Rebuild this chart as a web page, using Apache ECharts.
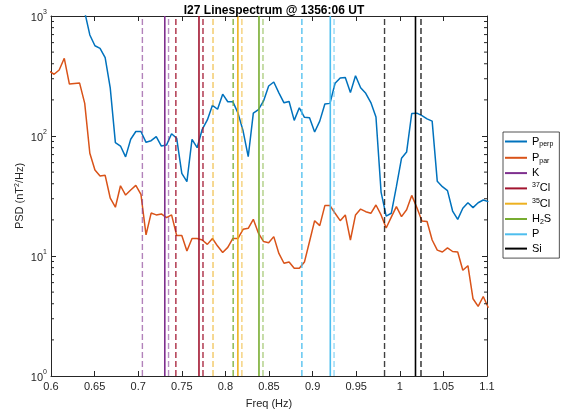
<!DOCTYPE html>
<html><head><meta charset="utf-8">
<script src="https://cdn.jsdelivr.net/npm/echarts@6/dist/echarts.min.js"></script>
<style>html,body{margin:0;padding:0;background:#fff}#c{width:564px;height:416px}</style>
</head><body><div id="c"></div>
<script>
const freq = [0.59766,0.60352,0.60938,0.61523,0.62109,0.62695,0.63281,0.63867,0.64453,0.65039,
0.65625,0.66211,0.66797,0.67383,0.67969,0.68555,0.69141,0.69727,0.70313,0.70898,
0.71484,0.72070,0.72656,0.73242,0.73828,0.74414,0.75000,0.75586,0.76172,0.76758,
0.77344,0.77930,0.78516,0.79102,0.79688,0.80273,0.80859,0.81445,0.82031,0.82617,
0.83203,0.83789,0.84375,0.84961,0.85547,0.86133,0.86719,0.87305,0.87891,0.88477,
0.89063,0.89648,0.90234,0.90820,0.91406,0.91992,0.92578,0.93164,0.93750,0.94336,
0.94922,0.95508,0.96094,0.96680,0.97266,0.97852,0.98438,0.99023,0.99609,1.00195,
1.00781,1.01367,1.01953,1.02539,1.03125,1.03711,1.04297,1.04883,1.05469,1.06055,
1.06641,1.07227,1.07813,1.08398,1.08984,1.09570,1.10156];
const psdPerp = [2500,2300,2100,1900,1700,1500,1300,1080,695,565,
538,449,250,88,82.5,67,94,109,109,88.6,
91.4,98.7,82.5,84,104.5,95.7,48.9,41.6,93.9,79.9,
113.7,136,180,167,223,193,193,155,110,67.2,
155,166,196,261,282,229,189,194,135,172,
143,142,108,133,185,187,275,304,307,230,
318,252,227,190,144,34.1,21.5,22.7,37.8,65.2,
73.5,154,155,148,139,133,41.9,37.8,35.1,23.7,
20.2,25.0,27.8,25.3,27.8,29.3,28.4];
const psdPar = [348,327,355,444,271,274,276,187,71.8,52.1,
46.4,47.0,30.3,25.5,38.5,32.2,35.5,38.8,32.7,15.0,
22.8,22.0,22.4,20.9,22.0,14.8,14.8,11.0,14.0,14.0,
13.6,12.5,14.0,12.1,10.7,11.8,14.0,14.0,16.7,17.0,
20.2,15.5,13.2,12.9,14.5,10.5,8.7,8.9,7.9,7.9,
8.9,13.2,19.7,17.9,26.3,26.3,22.7,19.7,22.0,13.6,
22.0,24.6,23.4,22.7,26.6,22.0,17.1,21.1,25.8,21.3,
24.3,32.0,25.4,19.6,19.4,13.6,11.2,10.8,11.7,10.9,
10.8,7.6,8.3,4.4,3.8,4.6,3.7];
const speciesNames = ['K','37Cl','35Cl','H2S','P','Si'];
const lineCenter = [0.7305,0.7697,0.8143,0.8385,0.9203,1.0180];
const lineLow    = [0.7048,0.7432,0.7858,0.8089,0.8877,0.9825];
const lineHigh   = [0.7348,0.7743,0.8189,0.8431,0.9246,1.0243];
const yMinorTicks = [2,3,4,5,6,7,8,9,20,30,40,50,60,70,80,90,200,300,400,500,600,700,800,900];
const xMin = 0.6, xMax = 1.1, xStep = 0.05, yMin = 1, yMax = 1000;

const speciesColors = ['#7E2F8E','#A2142F','#EDB120','#77AC30','#4DBEEE','#000000'];
const lowOpacity  = [0.6,0.9,0.7,0.9,0.95,0.75];
const highOpacity = [0.55,0.9,0.6,0.6,0.6,0.85];
const FONT = 'Liberation Sans, Arial, Helvetica, sans-serif';
const AX = '#262626';

const chart = echarts.init(document.getElementById('c'), null, {renderer:'canvas'});
const series = [
  {name:'Pperp', type:'line', data: freq.map((f,i)=>[f, psdPerp[i]]), showSymbol:false, clip:true,
   lineStyle:{color:'#0072BD', width:1.5}, itemStyle:{color:'#0072BD'}, z:2},
  {name:'Ppar', type:'line', data: freq.map((f,i)=>[f, psdPar[i]]), showSymbol:false, clip:true,
   lineStyle:{color:'#D95319', width:1.5}, itemStyle:{color:'#D95319'}, z:2}
];
speciesNames.forEach((n,i)=>{
  series.push({name:n, type:'line', data:[[lineCenter[i],yMin],[lineCenter[i],yMax]], showSymbol:false, silent:true,
    lineStyle:{color:speciesColors[i], width:1.6}, itemStyle:{color:speciesColors[i]}, z:4});
  series.push({name:n+'_lo', type:'line', data:[[lineLow[i],yMin],[lineLow[i],yMax]], showSymbol:false, silent:true,
    lineStyle:{color:speciesColors[i], width:1.4, type:[6,3], opacity:lowOpacity[i]}, z:3});
  series.push({name:n+'_hi', type:'line', data:[[lineHigh[i],yMin],[lineHigh[i],yMax]], showSymbol:false, silent:true,
    lineStyle:{color:speciesColors[i], width:1.4, type:[6,3], opacity:highOpacity[i]}, z:3});
});
series.push({type:'custom', silent:true, z:5, data: yMinorTicks.map(v=>[xMin, v]), encode:{x:0,y:1},
  renderItem:function(params, api){
    const v = api.value(1);
    const pL = api.coord([xMin, v]), pR = api.coord([xMax, v]);
    return {type:'group', children:[
      {type:'line', shape:{x1:pL[0], y1:pL[1], x2:pL[0]+3, y2:pL[1]}, style:{stroke:AX, lineWidth:1}},
      {type:'line', shape:{x1:pR[0]-3, y1:pR[1], x2:pR[0], y2:pR[1]}, style:{stroke:AX, lineWidth:1}}
    ]};
  }});

const legendLabels = {
  Pperp:'{b|P}{sub|perp}', Ppar:'{b|P}{sub|par}', K:'{b|K}', '37Cl':'{sup|37}{b|Cl}',
  '35Cl':'{sup|35}{b|Cl}', H2S:'{b|H}{sub|2}{b|S}', P:'{b|P}', Si:'{b|Si}'
};

const axisCommon = {
  axisLine:{show:true, onZero:false, lineStyle:{color:AX, width:1}},
  axisTick:{show:true, inside:true, length:5, lineStyle:{color:AX, width:1}},
  splitLine:{show:false}
};

chart.setOption({
  animation:false,
  backgroundColor:'#fff',
  title:{text:'I27 Linespectrum @ 1356:06 UT', left:269, textAlign:'center', top:0,
    textStyle:{fontFamily:FONT, fontSize:12, fontWeight:'bold', color:'#000'}},
  grid:{left:51, right:77, top:16, bottom:40, containLabel:false},
  legend:{data:['Pperp','Ppar','K','37Cl','35Cl','H2S','P','Si'], orient:'vertical', left:503, top:132,
    icon:'rect', itemWidth:22, itemHeight:2, itemGap:3.3, itemTextGap:2,
    padding:[3,6,4,2], borderColor:AX, borderWidth:0.8, backgroundColor:'#fff',
    selectedMode:false,
    formatter: n => legendLabels[n],
    textStyle:{fontFamily:FONT, color:'#000', rich:{
      b:{fontSize:11, fontFamily:FONT, lineHeight:13, verticalAlign:'middle', color:'#000'},
      sub:{fontSize:7, fontFamily:FONT, lineHeight:13, verticalAlign:'bottom', color:'#000', padding:[6,0,0,0]},
      sup:{fontSize:7, fontFamily:FONT, lineHeight:13, verticalAlign:'top', color:'#000'}
    }}},
  xAxis:[
    Object.assign({type:'value', min:xMin, max:xMax, interval:xStep, position:'bottom',
      name:'Freq (Hz)', nameLocation:'middle', nameGap:22,
      nameTextStyle:{fontFamily:FONT, fontSize:11, color:AX},
      axisLabel:{fontFamily:FONT, fontSize:11, color:AX, margin:5}}, axisCommon),
    Object.assign({type:'value', min:xMin, max:xMax, interval:xStep, position:'top',
      axisLabel:{show:false}}, axisCommon)
  ],
  yAxis:[
    Object.assign({type:'log', logBase:10, min:yMin, max:yMax, position:'left',
      name:'PSD (nT{sup|2}/Hz)', nameLocation:'middle', nameGap:26, nameRotate:90, nameMoveOverlap:false,
      nameTextStyle:{fontFamily:FONT, fontSize:11, color:AX, rich:{sup:{fontSize:7, verticalAlign:'top', color:AX}}},
      axisLabel:{fontFamily:FONT, color:AX, margin:4,
        formatter: v => '{b|10}{sup|' + Math.round(Math.log10(v)) + '}',
        rich:{b:{fontSize:11, color:AX, lineHeight:14, verticalAlign:'bottom', fontFamily:FONT},
              sup:{fontSize:7, color:AX, lineHeight:14, verticalAlign:'top', fontFamily:FONT}}}}, axisCommon),
    Object.assign({type:'log', logBase:10, min:yMin, max:yMax, position:'right',
      axisLabel:{show:false}}, axisCommon)
  ],
  series: series
});
</script></body></html>
